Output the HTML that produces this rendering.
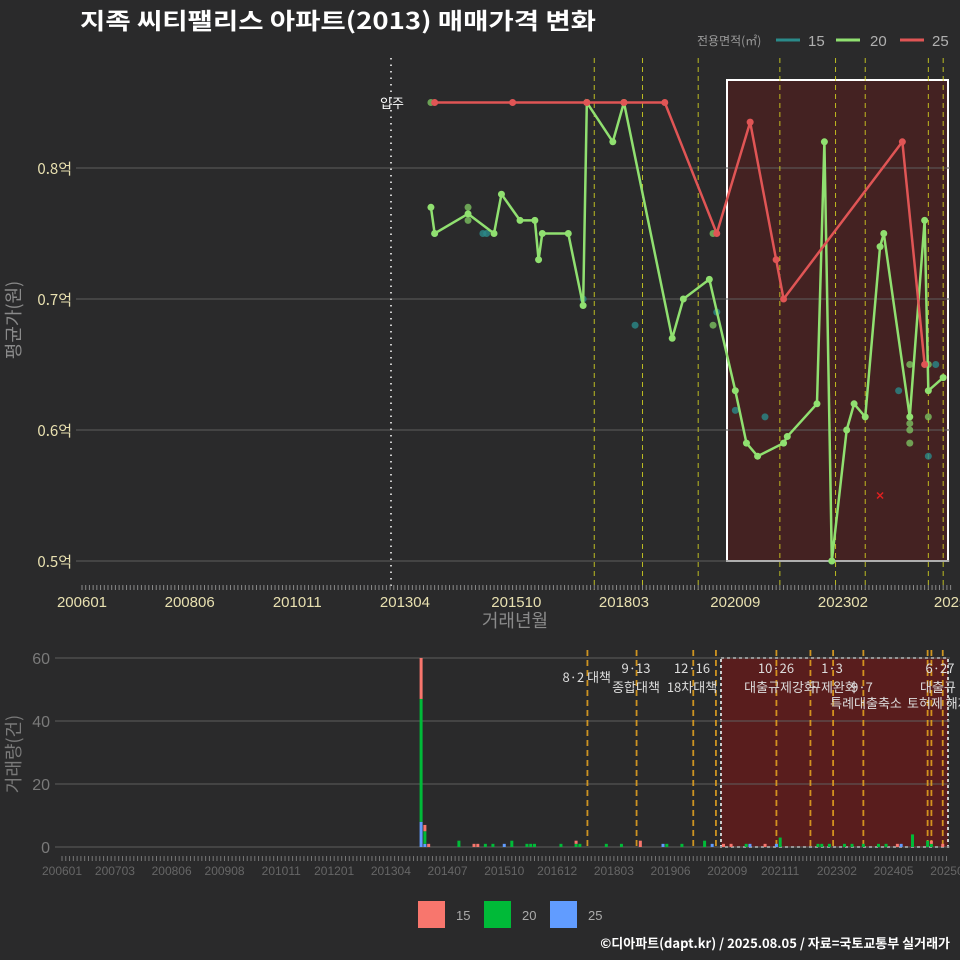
<!DOCTYPE html>
<html><head><meta charset="utf-8">
<style>
html,body{margin:0;padding:0;background:#2a2a2b;}
svg{display:block;font-family:"Liberation Sans","Noto Sans CJK KR",sans-serif;}
</style></head>
<body>
<svg id="chart" width="960" height="960" viewBox="0 0 960 960">
<rect x="0" y="0" width="960" height="960" fill="#2a2a2b"/>
<text x="80" y="29" fill="#ffffff" font-size="23" font-weight="bold" textLength="516" lengthAdjust="spacingAndGlyphs" font-family="'Noto Sans CJK KR',sans-serif">지족 씨티팰리스 아파트(2013) 매매가격 변화</text>
<g font-size="15">
<text x="697" y="45" fill="#9a9a9a" font-size="12" font-family="'Noto Sans CJK KR',sans-serif">전용면적(㎡)</text>
<line x1="776" y1="40" x2="800" y2="40" stroke="#2a8a8a" stroke-width="3"/>
<text x="808" y="46" fill="#b0b0b0">15</text>
<line x1="836" y1="40" x2="860" y2="40" stroke="#90e070" stroke-width="3"/>
<text x="870" y="46" fill="#b0b0b0">20</text>
<line x1="900" y1="40" x2="924" y2="40" stroke="#e05555" stroke-width="3"/>
<text x="932" y="46" fill="#b0b0b0">25</text>
</g>
<g id="top"></g>
<g id="bot"></g>
<g>
<rect x="418" y="901" width="27" height="27" fill="#f8766d"/>
<text x="456" y="920" fill="#aaaaaa" font-size="13">15</text>
<rect x="484" y="901" width="27" height="27" fill="#00ba38"/>
<text x="522" y="920" fill="#aaaaaa" font-size="13">20</text>
<rect x="550" y="901" width="27" height="27" fill="#619cff"/>
<text x="588" y="920" fill="#aaaaaa" font-size="13">25</text>
</g>
<text x="950" y="948" text-anchor="end" fill="#ffffff" font-size="13" font-weight="bold" font-family="'Noto Sans CJK KR',sans-serif">©디아파트(dapt.kr) / 2025.08.05 / 자료=국토교통부 실거래가</text>
</svg>
<script>
// ---- data ----
const topTickLabels = ["200601","200806","201011","201304","201510","201803","202009","202302","2025"];
const topTickMonths = [0,29,58,87,117,146,176,205,234];
const yTicks = [0.5,0.6,0.7,0.8];
const yTickLabels = ["0.5억","0.6억","0.7억","0.8억"];
const s25Dates = ["201312","201509","201705","201803","201902","202004","202101","202108","202110","202406","202412"];
const s25Vals = [0.85,0.85,0.85,0.85,0.85,0.75,0.835,0.73,0.70,0.82,0.65];
const s20Dates = ["201311","201312","201409","201504","201506","201511","201603","201604","201605","201612","201704","201705","201712","201803","201904","201907","202002","202009","202012","202103","202110","202111","202207","202209","202211","202303","202305","202308","202312","202401","202408","202412","202501","202505"];
const s20Vals = [0.77,0.75,0.765,0.75,0.78,0.76,0.76,0.73,0.75,0.75,0.695,0.85,0.82,0.85,0.67,0.70,0.715,0.63,0.59,0.58,0.59,0.595,0.62,0.82,0.50,0.60,0.62,0.61,0.74,0.75,0.61,0.76,0.63,0.64];
const d20Dates = ["201311","201409","201409","202003","202003","202408","202408","202408","202408","202501","202501"];
const d20Vals = [0.85,0.77,0.76,0.75,0.68,0.65,0.605,0.60,0.59,0.65,0.61];
const d15Dates = ["201312","201501","201502","201704","201806","202004","202009","202105","202211","202405","202501","202503"];
const d15Vals = [0.75,0.75,0.75,0.70,0.68,0.69,0.615,0.61,0.50,0.63,0.58,0.65];
const xMarkDate = "202312";
const xMarkVal = 0.55;
const policyTopMonths = [138,151,166,188,203,211,228,232];
const barMonths = [95,96,97,105,109,110,112,114,117,119,123,124,125,132,136,137,144,148,153,159,160,164,170,172,175,177,181,182,186,189,190,200,201,203,207,209,212,216,218,221,222,225,229,230,233];
const bar15 = [13,2,1,0,1,1,0,0,0,0,0,0,0,0,1,0,0,0,2,0,0,0,0,0,1,1,0,0,1,0,0,0,0,0,0,0,0,0,0,1,0,0,0,1,1];
const bar20 = [39,4,0,2,0,0,1,1,0,2,1,1,1,1,1,1,1,1,0,0,1,1,2,0,0,0,1,0,0,0,3,1,1,1,1,1,1,1,1,0,0,4,2,1,0];
const bar25 = [8,1,0,0,0,0,0,0,1,0,0,0,0,0,0,0,0,0,0,1,0,0,0,1,0,0,0,1,0,1,0,0,0,0,0,0,0,0,0,0,1,0,0,0,0];
const botTickLabels = ["200601","200703","200806","200908","201011","201201","201304","201407","201510","201612","201803","201906","202009","202111","202302","202405","202508"];
const botYTicks = [0,20,40,60];
const policyBotMonths = [139,152,167,173,189,198,204,212,229,230,233];

// ---- scales ----
const NS="http://www.w3.org/2000/svg";
function mIdx(s){return (parseInt(s.slice(0,4))-2006)*12+parseInt(s.slice(4,6))-1;}
function xt(m){return 82+m*3.712;}
function yt(v){return 561-(v-0.5)*1310;}
function xb(m){return 62+m*3.78;}
function yb(v){return 847-v*3.15;}
function mk(parent,tag,attrs){const el=document.createElementNS(NS,tag);for(const k in attrs)el.setAttribute(k,attrs[k]);parent.appendChild(el);return el;}
const topG=document.getElementById('top'), botG=document.getElementById('bot');

// ---- top panel ----
let e;
e=mk(topG,'rect',{x:727,y:80,width:221,height:481,fill:'#5a1c1c','fill-opacity':0.55,stroke:'#ffffff','stroke-width':2});


yTicks.forEach((v,i)=>{
  e=mk(topG,'line',{x1:76,x2:950,y1:yt(v),y2:yt(v),stroke:'#5e5e5e','stroke-width':1});
  
  
  e=mk(topG,'text',{x:72,y:yt(v)+6,'text-anchor':'end',fill:'#e8e0b0','font-size':15,'font-family':"'Noto Sans CJK KR',sans-serif"});e.textContent=yTickLabels[i];
  
  
});
e=mk(topG,'line',{x1:391,x2:391,y1:58,y2:590,stroke:'#cccccc','stroke-width':2,'stroke-dasharray':'1.5,5'});


e=mk(topG,'text',{x:392,y:108,'text-anchor':'middle',fill:'#ffffff','font-size':13,'font-family':"'Noto Sans CJK KR',sans-serif"});e.textContent='입주';


policyTopMonths.forEach(m=>{
  e=mk(topG,'line',{x1:xt(m),x2:xt(m),y1:58,y2:590,stroke:'#e0e020','stroke-width':1,'stroke-dasharray':'5,4','stroke-opacity':0.8});
  
  
});
for(let m=0;m<=234;m++){
  e=mk(topG,'line',{x1:xt(m),x2:xt(m),y1:585,y2:590,stroke:'#888','stroke-width':1});
  
  
}
topTickLabels.forEach((l,i)=>{
  e=mk(topG,'text',{x:xt(topTickMonths[i]),y:607,'text-anchor':'middle',fill:'#e8e0b0','font-size':15});e.textContent=l;
  
  
});
e=mk(topG,'text',{x:515,y:627,'text-anchor':'middle',fill:'#8a8a8a','font-size':18,'font-family':"'Noto Sans CJK KR',sans-serif"});e.textContent='거래년월';


e=mk(topG,'text',{x:20,y:320,'text-anchor':'middle',fill:'#8a8a8a','font-size':18,transform:'rotate(-90 20 320)','font-family':"'Noto Sans CJK KR',sans-serif"});e.textContent='평균가(원)';


d15Dates.forEach((d,i)=>{
  e=mk(topG,'circle',{cx:xt(mIdx(d)),cy:yt(d15Vals[i]),r:3.5,fill:'#2a8a8a','fill-opacity':0.8});
  
  
});
d20Dates.forEach((d,i)=>{
  e=mk(topG,'circle',{cx:xt(mIdx(d)),cy:yt(d20Vals[i]),r:3.5,fill:'#7cc060','fill-opacity':0.8});
  
  
});
function series(dates,vals,col,name){
  const pts=dates.map((d,i)=>xt(mIdx(d))+','+yt(vals[i])).join(' ');
  e=mk(topG,'polyline',{points:pts,fill:'none',stroke:col,'stroke-width':2.5});
  
  
  dates.forEach((d,i)=>{
    e=mk(topG,'circle',{cx:xt(mIdx(d)),cy:yt(vals[i]),r:3.5,fill:col});
    
    
  });
}
series(s20Dates,s20Vals,'#90e070','series-20');
series(s25Dates,s25Vals,'#e05555','series-25');
const xm=xt(mIdx(xMarkDate)), ym=yt(xMarkVal);
e=mk(topG,'path',{d:`M${xm-3},${ym-3}L${xm+3},${ym+3}M${xm+3},${ym-3}L${xm-3},${ym+3}`,stroke:'#e02020','stroke-width':1.5});



// ---- bottom panel ----
e=mk(botG,'rect',{x:721,y:658,width:227,height:189,fill:'#6a1a1a','fill-opacity':0.75,stroke:'#cccccc','stroke-width':2,'stroke-dasharray':'3,3'});


botYTicks.forEach(v=>{
  e=mk(botG,'line',{x1:55,x2:950,y1:yb(v),y2:yb(v),stroke:'#5e5e5e','stroke-width':1});
  
  
  e=mk(botG,'text',{x:50,y:yb(v)+6,'text-anchor':'end',fill:'#7a7a7a','font-size':16});e.textContent=v;
  
  
});
policyBotMonths.forEach(m=>{
  e=mk(botG,'line',{x1:xb(m),x2:xb(m),y1:650,y2:850,stroke:'#e0a020','stroke-width':1.8,'stroke-dasharray':'6,4','stroke-opacity':0.9});
  
  
});
const pl=[[611,682,'8·2 대책','end'],[636,673,'9·13','middle'],[636,692,'종합대책','middle'],[692,673,'12·16','middle'],[692,692,'18차대책','middle'],[776,673,'10·26','middle'],[780,692,'대출규제강화','middle'],[832,673,'1·3','middle'],[809,692,'규제완화','start'],[862,692,'9·7','middle'],[866,708,'특례대출축소','middle'],[907,708,'토허제 해제','start'],[940,673,'6·27','middle'],[920,692,'대출규','start']];
pl.forEach(p=>{
  e=mk(botG,'text',{x:p[0],y:p[1],'text-anchor':p[3],fill:'#dddddd','font-size':13,'font-family':"'Noto Sans CJK KR',sans-serif"});e.textContent=p[2];
  
  
});
barMonths.forEach((m,i)=>{
  const x=xb(m)-1.5; let base=0;
  [[bar25[i],'#619cff'],[bar20[i],'#00ba38'],[bar15[i],'#f8766d']].forEach(s=>{
    if(s[0]>0){
      e=mk(botG,'rect',{x:x,y:yb(base+s[0]),width:3,height:s[0]*3.15,fill:s[1]});
      
      
      base+=s[0];
    }
  });
});
for(let m=0;m<=234;m++){
  e=mk(botG,'line',{x1:xb(m),x2:xb(m),y1:856,y2:861,stroke:'#777','stroke-width':1});
  
  
}
botTickLabels.forEach((l,i)=>{
  e=mk(botG,'text',{x:xb(mIdx(l)),y:875,'text-anchor':'middle',fill:'#666666','font-size':12});e.textContent=l;
  
  
});
e=mk(botG,'text',{x:20,y:754,'text-anchor':'middle',fill:'#7a7a7a','font-size':18,transform:'rotate(-90 20 754)','font-family':"'Noto Sans CJK KR',sans-serif"});e.textContent='거래량(건)';


</script>
</body></html>
